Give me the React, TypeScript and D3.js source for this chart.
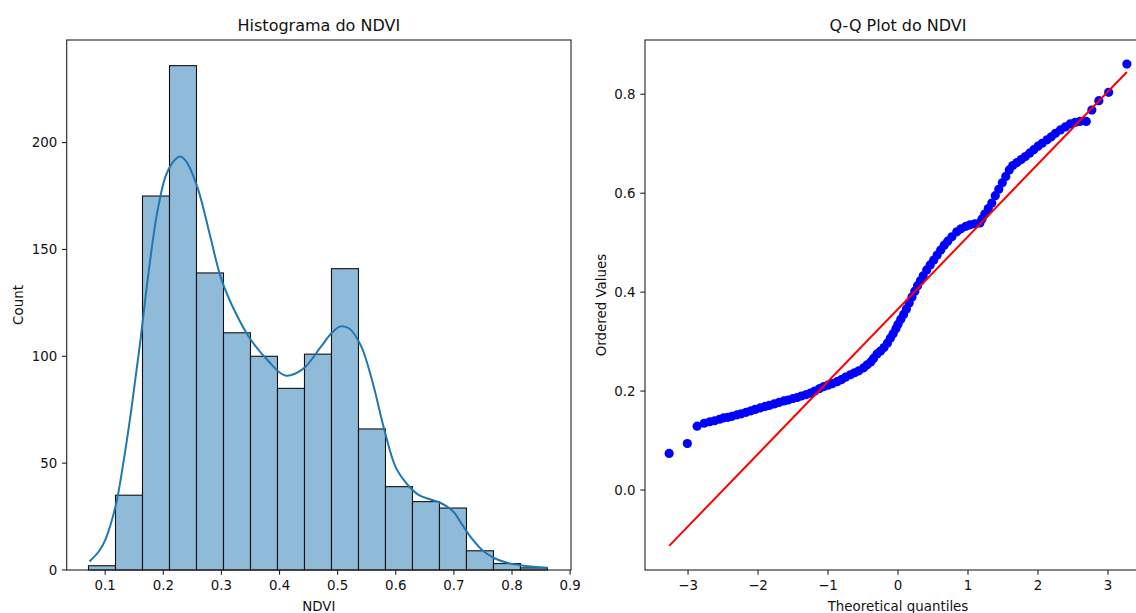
import React, { useEffect } from "react";
import * as d3 from "d3";

// ---------- Histogram data ----------
const histMin = 0.0713;
const histMax = 0.861;
const histCounts = [2, 35, 175, 236, 139, 111, 100, 85, 101, 141, 66, 39, 32, 29, 9, 3, 1];
const kdeX = [0.073, 0.09, 0.1, 0.118, 0.13, 0.145, 0.16, 0.175, 0.19, 0.205, 0.22, 0.229, 0.24, 0.26, 0.28, 0.3, 0.325, 0.35, 0.38, 0.41, 0.44, 0.47, 0.49, 0.505, 0.52, 0.54, 0.56, 0.58, 0.6, 0.62, 0.64, 0.66, 0.68, 0.7, 0.71, 0.73, 0.75, 0.77, 0.79, 0.82, 0.861];
const kdeY = [4, 9, 14, 30, 48, 75, 106, 140, 168, 185, 192, 193.5, 191, 178, 157, 136, 120, 108, 98, 91, 94, 104, 111, 114, 113, 105, 88, 66, 48, 40, 35, 33, 31, 27, 23, 15, 9, 5.5, 3.5, 2, 1];
const histXTicks = [0.1, 0.2, 0.3, 0.4, 0.5, 0.6, 0.7, 0.8, 0.9];
const histYTicks = [0, 50, 100, 150, 200];

// ---------- Q-Q data ----------
const qqTheoretical = [
  -3.27, -3.01, -2.87, -2.77, -2.69, -2.62, -2.55, -2.49, -2.43, -2.37, -2.3, -2.24, -2.17, -2.1, -2.04,
  -1.97, -1.9, -1.84, -1.77, -1.7, -1.63, -1.57, -1.5, -1.44, -1.38, -1.31, -1.25, -1.19, -1.12, -1.06,
  -1.0, -0.94, -0.87, -0.81, -0.75, -0.68, -0.62, -0.56, -0.49, -0.44, -0.39, -0.35, -0.3, -0.25, -0.2,
  -0.15, -0.11, -0.07, -0.03, 0.0, 0.04, 0.08, 0.12, 0.16, 0.2, 0.24, 0.28, 0.32, 0.36, 0.41, 0.46, 0.51,
  0.56, 0.61, 0.66, 0.71, 0.77, 0.84, 0.9, 0.97, 1.03, 1.1, 1.17, 1.2, 1.24, 1.29, 1.34, 1.39, 1.44, 1.49,
  1.54, 1.59, 1.64, 1.7, 1.76, 1.82, 1.88, 1.94, 2.0, 2.06, 2.13, 2.19, 2.25, 2.32, 2.39, 2.46, 2.53, 2.6,
  2.69, 2.77, 2.87, 3.01, 3.27,
];
const qqOrdered = [
  0.074, 0.094, 0.129, 0.135, 0.138, 0.14, 0.143, 0.146, 0.147, 0.149, 0.152, 0.154, 0.157, 0.16, 0.163,
  0.166, 0.169, 0.171, 0.174, 0.177, 0.18, 0.182, 0.185, 0.187, 0.19, 0.193, 0.196, 0.2, 0.205, 0.209,
  0.212, 0.215, 0.219, 0.223, 0.228, 0.233, 0.237, 0.241, 0.247, 0.253, 0.259, 0.266, 0.275, 0.281, 0.288,
  0.297, 0.307, 0.316, 0.326, 0.335, 0.345, 0.355, 0.366, 0.378, 0.39, 0.402, 0.413, 0.423, 0.433, 0.445, 0.455, 0.465,
  0.475, 0.485, 0.495, 0.503, 0.512, 0.522, 0.528, 0.533, 0.536, 0.538, 0.54, 0.548, 0.558, 0.569, 0.58, 0.595, 0.608, 0.621,
  0.634, 0.647, 0.656, 0.662, 0.668, 0.674, 0.681, 0.688, 0.695, 0.701, 0.708, 0.714, 0.721, 0.728, 0.734, 0.74, 0.743, 0.745,
  0.745, 0.768, 0.787, 0.804, 0.861,
];
const fitLineQ = [-3.27, 3.27];
const fitLineV = [-0.113, 0.845];
const qqXTicks = [-3, -2, -1, 0, 1, 2, 3];
const qqYTicks = [0.0, 0.2, 0.4, 0.6, 0.8];

const FONT = "DejaVu Sans, sans-serif";
const TICK_FS = 13.4;
const TITLE_FS = 16;
const TICK_LEN = 4.7;
const TICK_PAD = 4.7;

const fmtMinus = (s: string) => s.replace("-", "\u2212");

function Axes({ x0, x1, y0, y1, xScale, yScale, xTicks, yTicks, xFmt, yFmt, title, xLabel, yLabel, yLabelX }: any) {
  return (
    <g>
      {/* spines */}
      <rect x={x0} y={y0} width={x1 - x0} height={y1 - y0} fill="none" stroke="#222" strokeWidth={1.1} />
      {xTicks.map((t: number) => (
        <g key={"xt" + t}>
          <line x1={xScale(t)} x2={xScale(t)} y1={y1} y2={y1 + TICK_LEN} stroke="#222" strokeWidth={1.1} />
          <text x={xScale(t)} y={y1 + TICK_LEN + TICK_PAD + 10.2} textAnchor="middle" fontSize={TICK_FS} fontFamily={FONT} fill="#111">
            {xFmt(t)}
          </text>
        </g>
      ))}
      {yTicks.map((t: number) => (
        <g key={"yt" + t}>
          <line x1={x0 - TICK_LEN} x2={x0} y1={yScale(t)} y2={yScale(t)} stroke="#222" strokeWidth={1.1} />
          <text x={x0 - TICK_LEN - TICK_PAD} y={yScale(t)} dy="0.36em" textAnchor="end" fontSize={TICK_FS} fontFamily={FONT} fill="#111">
            {yFmt(t)}
          </text>
        </g>
      ))}
      <text x={(x0 + x1) / 2} y={y0 - 9} textAnchor="middle" fontSize={TITLE_FS} fontFamily={FONT} fill="#111">
        {title}
      </text>
      <text x={(x0 + x1) / 2} y={611} textAnchor="middle" fontSize={TICK_FS} fontFamily={FONT} fill="#111">
        {xLabel}
      </text>
      <text
        transform={`translate(${yLabelX},${(y0 + y1) / 2}) rotate(-90)`}
        textAnchor="middle"
        dy="0.36em"
        fontSize={TICK_FS}
        fontFamily={FONT}
        fill="#111"
      >
        {yLabel}
      </text>
    </g>
  );
}

export default function App() {
  useEffect(() => {
    document.body.style.margin = "0";
  }, []);

  const W = 1136;
  const H = 613;

  // Histogram axes
  const hx0 = 66.7, hx1 = 571, hy0 = 40, hy1 = 570;
  const hX = d3.scaleLinear().domain([0.0338, 0.9015]).range([hx0, hx1]);
  const hY = d3.scaleLinear().domain([0, 248]).range([hy1, hy0]);
  const nb = histCounts.length;
  const bw = (histMax - histMin) / nb;
  const kdePath = d3
    .line<number>()
    .x((_, i) => hX(kdeX[i]))
    .y((d) => hY(d))
    .curve(d3.curveCatmullRom.alpha(0.5))(kdeY);

  // QQ axes
  const qx0 = 645, qx1 = 1151, qy0 = 40, qy1 = 570;
  const qX = d3.scaleLinear().domain([-3.615, 3.615]).range([qx0, qx1]);
  const qY = d3.scaleLinear().domain([-0.1617, 0.9097]).range([qy1, qy0]);

  return (
    <svg width={W} height={H} style={{ display: "block" }}>
      <rect x={0} y={0} width={W} height={H} fill="#fff" />
      {/* Histogram */}
      <g>
        {histCounts.map((c, i) => {
          const a = histMin + i * bw;
          const b = a + bw;
          return (
            <rect
              key={i}
              x={hX(a)}
              y={hY(c)}
              width={hX(b) - hX(a)}
              height={hY(0) - hY(c)}
              fill="rgba(31,119,180,0.5)"
              stroke="#111"
              strokeWidth={1.1}
            />
          );
        })}
        <path d={kdePath || ""} fill="none" stroke="#1f77b4" strokeWidth={2} />
        <Axes
          x0={hx0} x1={hx1} y0={hy0} y1={hy1}
          xScale={hX} yScale={hY}
          xTicks={histXTicks} yTicks={histYTicks}
          xFmt={(t: number) => d3.format(".1f")(t)}
          yFmt={(t: number) => String(t)}
          title="Histograma do NDVI" xLabel="NDVI" yLabel="Count" yLabelX={18}
        />
      </g>
      {/* QQ plot */}
      <g>
        {qqTheoretical.map((q, i) => (
          <circle key={i} cx={qX(q)} cy={qY(qqOrdered[i])} r={4.6} fill="#0000ff" />
        ))}
        <line x1={qX(fitLineQ[0])} y1={qY(fitLineV[0])} x2={qX(fitLineQ[1])} y2={qY(fitLineV[1])} stroke="#ff0000" strokeWidth={2} />
        <Axes
          x0={qx0} x1={qx1} y0={qy0} y1={qy1}
          xScale={qX} yScale={qY}
          xTicks={qqXTicks} yTicks={qqYTicks}
          xFmt={(t: number) => fmtMinus(String(t))}
          yFmt={(t: number) => d3.format(".1f")(t)}
          title="Q-Q Plot do NDVI" xLabel="Theoretical quantiles" yLabel="Ordered Values" yLabelX={601}
        />
      </g>
    </svg>
  );
}
